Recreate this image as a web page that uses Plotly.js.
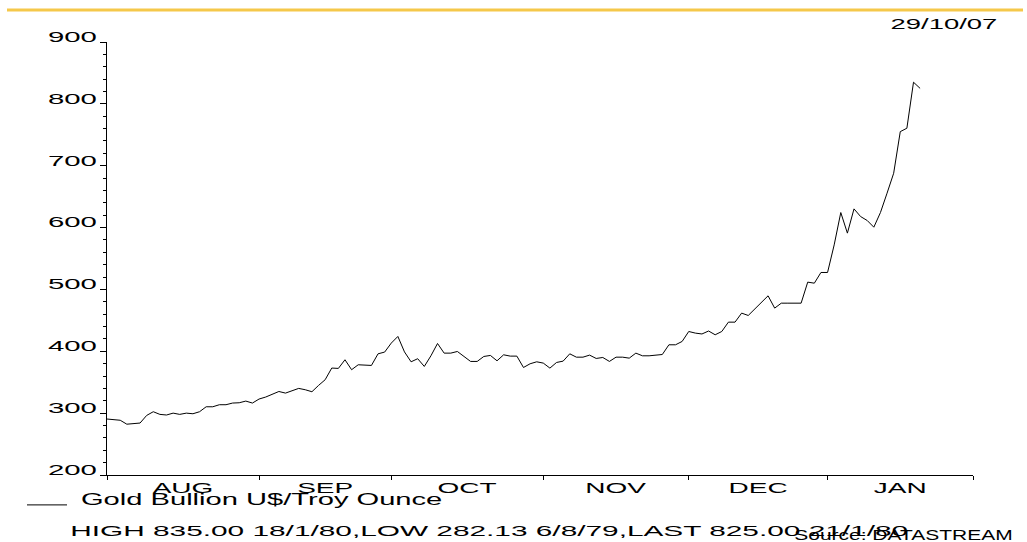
<!DOCTYPE html>
<html>
<head>
<meta charset="utf-8">
<script src="https://cdn.plot.ly/plotly-3.0.1.min.js"></script>
<style>
html,body{margin:0;padding:0;background:#fff;overflow:hidden}
#chart{width:1027px;height:542px}
</style>
</head>
<body>
<div id="chart"></div>
<script>
// ---------- data ----------
const seriesName = 'Gold Bullion U$/Troy Ounce';
const startDate = '1979-08-01';          // first trading day shown
const axisEndDate = '1980-01-31';        // end of the x axis
const goldPrice = [
  290.5, 289.5, 288.5, 282.13, 283.5, 284.0, 296.3, 302.3, 298.0, 297.0,
  300.0, 298.0, 300.0, 299.0, 302.3, 310.3, 310.3, 313.6, 313.6, 316.3,
  316.8, 319.5, 316.3, 322.8, 326.0, 330.2, 335.0, 332.4, 336.2, 340.0,
  337.8, 334.6, 344.8, 354.0, 372.9, 372.3, 386.3, 370.2, 378.2, 377.7,
  377.1, 395.9, 398.7, 413.2, 424.0, 399.0, 383.0, 388.0, 375.5, 392.7,
  412.6, 397.0, 397.0, 399.7, 391.6, 383.6, 383.6, 391.6, 393.3, 384.6,
  394.3, 392.2, 392.2, 373.8, 379.8, 383.0, 380.9, 372.8, 381.9, 384.1,
  395.9, 390.5, 390.5, 393.8, 388.4, 390.0, 383.6, 390.5, 390.5, 388.9,
  397.0, 392.7, 392.7, 394.3, 394.8, 410.5, 410.5, 415.9, 432.0, 429.4,
  428.0, 432.8, 426.7, 432.0, 447.1, 447.1, 461.7, 457.9, 468.7, 477.8,
  489.7, 469.8, 477.8, 477.8, 477.8, 477.8, 511.8, 510.1, 527.4, 527.4,
  572.0, 624.3, 591.0, 630.2, 617.8, 611.4, 600.6, 624.3, 655.6, 687.8,
  755.1, 760.6, 835.0, 825.0
];
const monthLabels = ['AUG', 'SEP', 'OCT', 'NOV', 'DEC', 'JAN'];
const monthStarts = ['1979-08-01', '1979-09-01', '1979-10-01', '1979-11-01', '1979-12-01', '1980-01-01'];
const yRange = [200, 900];
const statsText = 'HIGH 835.00 18/1/80,LOW 282.13 6/8/79,LAST 825.00 21/1/80';
const sourceText = 'Source: DATASTREAM';
const printDate = '29/10/07';

// ---------- helpers: trading-day (weekday) scale ----------
function toUTC(s){ const p = s.split('-').map(Number); return Date.UTC(p[0], p[1]-1, p[2]); }
const DAY = 86400000;
function weekdayIndex(s){
  let n = 0;
  for (let t = toUTC(startDate); t < toUTC(s); t += DAY){
    const d = new Date(t).getUTCDay();
    if (d !== 0 && d !== 6) n++;
  }
  return n;
}
function tradingDays(count){
  const out = [];
  let t = toUTC(startDate);
  while (out.length < count){
    const d = new Date(t).getUTCDay();
    if (d !== 0 && d !== 6) out.push(new Date(t).toISOString().slice(0,10));
    t += DAY;
  }
  return out;
}
const dates = tradingDays(goldPrice.length);
const xIdx = dates.map(weekdayIndex);
const xEnd = weekdayIndex(axisEndDate);
const monthBounds = monthStarts.map(weekdayIndex).concat([xEnd]);
const monthCenters = monthLabels.map((m, k) => (monthBounds[k] + monthBounds[k+1]) / 2);

// ---------- plot geometry helpers (paper coords) ----------
const L = 107, R = 973, T = 42, B = 475, W = 1027, H = 542;
const px = x => (x - L) / (R - L);
const py = y => (B - y) / (B - T);

const FONT = '"Liberation Sans", Arial, Helvetica, sans-serif';

const trace = {
  type: 'scatter', mode: 'lines', name: seriesName,
  x: xIdx, y: goldPrice, customdata: dates,
  line: {color: '#000000', width: 1},
  hovertemplate: '%{customdata}: %{y:.2f}<extra></extra>'
};

const layout = {
  width: W, height: H,
  margin: {l: L, r: W - R, t: T, b: H - B, pad: 0},
  paper_bgcolor: '#ffffff', plot_bgcolor: '#ffffff',
  font: {family: FONT, size: 14, color: '#000000'},
  showlegend: true,
  legend: {
    x: px(22), xanchor: 'left', y: py(505), yanchor: 'middle',
    bgcolor: 'rgba(0,0,0,0)', borderwidth: 0, itemwidth: 40,
    font: {family: FONT, size: 16, color: '#000'}
  },
  xaxis: {
    range: [0, xEnd], showline: true, linecolor: '#000', linewidth: 1,
    showgrid: false, zeroline: false, fixedrange: true,
    tickmode: 'array', tickvals: monthCenters, ticktext: monthLabels,
    ticks: '', ticklen: 0,
    tickfont: {family: FONT, size: 14, color: '#000'},
    minor: {tickmode: 'array', tickvals: monthBounds, ticks: 'outside', ticklen: 4, tickwidth: 1, tickcolor: '#000', showgrid: false}
  },
  yaxis: {
    range: yRange, showline: true, linecolor: '#000', linewidth: 1,
    showgrid: false, zeroline: false, fixedrange: true,
    tickmode: 'linear', tick0: 0, dtick: 100,
    ticks: 'outside', ticklen: 6, tickwidth: 1, tickcolor: '#000',
    tickfont: {family: FONT, size: 14, color: '#000'},
    minor: {tickmode: 'linear', tick0: 0, dtick: 20, ticks: 'outside', ticklen: 3, tickwidth: 1, tickcolor: '#000', showgrid: false}
  },
  shapes: [
    {type: 'line', xref: 'paper', yref: 'paper', x0: px(7), x1: px(1023), y0: py(10), y1: py(10),
     line: {color: '#F5C84A', width: 3}}
  ],
  annotations: [
    {text: printDate, xref: 'paper', yref: 'paper', x: px(1000), y: py(24), xanchor: 'right', yanchor: 'middle',
     showarrow: false, font: {family: FONT, size: 14, color: '#000'}},
    {text: statsText, xref: 'paper', yref: 'paper', x: px(68), y: py(531), xanchor: 'left', yanchor: 'middle',
     showarrow: false, font: {family: FONT, size: 14, color: '#000'}},
    {text: sourceText, xref: 'paper', yref: 'paper', x: px(1015), y: py(535), xanchor: 'right', yanchor: 'middle',
     showarrow: false, font: {family: FONT, size: 14, color: '#000'}}
  ]
};

// horizontal stretch of the (wide) original lettering
function stretchEl(t, sx, mode, dy, dx){
  const bb = t.getBBox();
  const ox = mode === 'left' ? bb.x : mode === 'right' ? bb.x + bb.width : bb.x + bb.width / 2;
  const oy = bb.y + bb.height / 2;
  const prev = t.getAttribute('transform') || '';
  t.setAttribute('transform', (prev + ' translate(' + (dx || 0) + ',' + (dy || 0) + ') translate(' + ox + ',' + oy + ') scale(' + sx + ',1) translate(' + (-ox) + ',' + (-oy) + ')').trim());
}
function stretchAll(sel, sx, mode, dy, dx){
  document.querySelectorAll('#chart ' + sel).forEach(t => stretchEl(t, sx, mode, dy, dx));
}

Plotly.newPlot('chart', [trace], layout, {displayModeBar: false, staticPlot: true}).then(() => {
  document.querySelectorAll('#chart .legend [clip-path], #chart .legend').forEach(e => e.removeAttribute('clip-path'));
  stretchAll('.ytick text', 2.1, 'right', -5, 0);
  stretchAll('.xtick text', 2.0, 'center', 0, 0);
  stretchAll('.legendtext', 1.82, 'left', -6, 9);
  const ann = document.querySelectorAll('#chart .annotation-text');
  const annSx = [1.96, 2.13, 1.5];
  const annMode = ['right', 'left', 'right'];
  ann.forEach((t, i) => stretchEl(t, annSx[i], annMode[i], 0, 0));
});
</script>
</body>
</html>
